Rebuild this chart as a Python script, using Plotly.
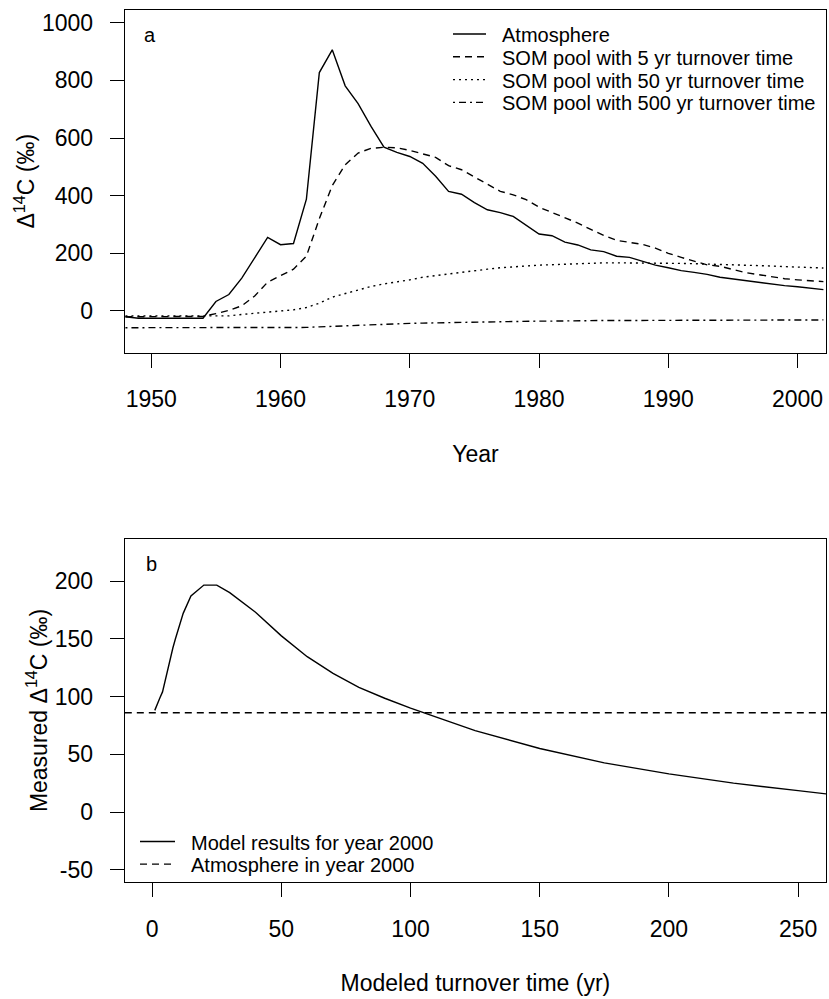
import plotly.graph_objects as go

# ---------------- data ----------------
years = list(range(1948, 2003))
atmosphere = [-20, -25, -25, -25, -25, -25, -25, 33, 57, 114,
              183, 255, 230, 234, 388, 827, 906, 781, 719, 640,
              568, 550, 536, 512, 467, 415, 405, 376, 351, 341,
              328, 297, 267, 261, 239, 229, 212, 206, 190, 186,
              172, 159, 150, 140, 134, 127, 117, 111, 105, 98,
              93, 88, 84, 79, 74]
som_5yr = [-20, -20, -20, -20, -20, -20, -19, -9, 2, 18,
           52, 100, 122, 145, 190, 320, 435, 507, 548, 564,
           568, 566, 557, 545, 533, 504, 490, 465, 440, 415,
           403, 386, 360, 342, 325, 305, 283, 262, 245, 238,
           231, 218, 200, 186, 172, 160, 155, 145, 133, 126,
           118, 112, 108, 105, 102]
som_50yr = [-17, -17, -17, -17, -17, -17, -17, -17, -17, -12,
            -8, -4, 0, 4, 12, 27, 48, 60, 72, 85,
            94, 100, 108, 117, 123, 128, 135, 141, 145, 150,
            154, 156, 159, 161, 163, 165, 166, 167, 167, 167,
            167, 166, 166, 165, 164, 163, 162, 161, 159, 158,
            156, 154, 153, 151, 149]
som_500yr = [-58, -58, -58, -58, -58, -58, -58, -58, -58, -58,
             -58, -58, -58, -58, -57, -55, -53, -51, -49, -48,
             -47, -45, -43, -42, -41, -40, -39, -38, -37, -37,
             -36, -36, -35, -35, -34, -34, -34, -33, -33, -33,
             -32, -32, -32, -31, -31, -31, -31, -31, -31, -31,
             -31, -31, -31, -31, -31]

turnover_times = [1, 2, 3, 4, 5, 6, 7, 8, 9, 10, 12, 15, 20, 25, 30, 40, 50,
                  60, 70, 80, 90, 100, 125, 150, 175, 200, 225, 250, 275]
model_2000 = [88, 94, 99, 104, 114, 124, 134, 142, 150, 158, 172, 187, 196.5,
              196.5, 190, 173, 152.5, 134.5, 120, 108, 98.5, 90, 70.5, 55,
              42.5, 33, 25, 18.5, 12]
atm_2000 = 86

top_xticks = [1950, 1960, 1970, 1980, 1990, 2000]
top_yticks = [0, 200, 400, 600, 800, 1000]
bot_xticks = [0, 50, 100, 150, 200, 250]
bot_yticks = [-50, 0, 50, 100, 150, 200]
bot_yticklabels = ["-50", "0", "50", "100", "150", "200"]

top_legend_names = ["Atmosphere", "SOM pool with 5 yr turnover time",
                    "SOM pool with 50 yr turnover time",
                    "SOM pool with 500 yr turnover time"]
bot_legend_names = ["Model results for year 2000", "Atmosphere in year 2000"]

top_xrange = [1947.95, 2002.2]
top_yrange = [-144, 1044]
bot_xrange = [-10.6, 260.8]
bot_yrange = [-60.6, 236.4]

# ---------------- figure ----------------
W, H = 829, 999
FONT = "Liberation Sans, Arial, sans-serif"
LW = 1.4
DASHES = ["solid", "7px,5px", "2px,4px", "2px,4px,7px,4px"]

fig = go.Figure()

for name, vals, dash in zip(top_legend_names,
                            [atmosphere, som_5yr, som_50yr, som_500yr], DASHES):
    fig.add_trace(go.Scatter(x=years, y=vals, mode="lines", name=name,
                             line=dict(color="black", width=LW, dash=dash),
                             xaxis="x", yaxis="y", showlegend=False))

fig.add_trace(go.Scatter(x=turnover_times, y=model_2000, mode="lines",
                         name=bot_legend_names[0],
                         line=dict(color="black", width=LW),
                         xaxis="x2", yaxis="y2", showlegend=False))
fig.add_trace(go.Scatter(x=bot_xrange, y=[atm_2000, atm_2000], mode="lines",
                         name=bot_legend_names[1],
                         line=dict(color="black", width=LW, dash=DASHES[1]),
                         xaxis="x2", yaxis="y2", showlegend=False))


def px_x(p):
    return p / W


def px_y(p):
    return 1 - p / H


axis_common = dict(
    showgrid=False, zeroline=False, showline=True, linecolor="black",
    linewidth=1.3, mirror=True, ticks="outside", ticklen=14, tickwidth=1.3,
    tickcolor="black", tickfont=dict(family=FONT, size=23, color="black"),
    title_font=dict(family=FONT, size=23, color="black"),
)

# manual legends (R-style compact rows)
shapes = []
annotations = []
for i, name in enumerate(top_legend_names):
    yc = 34 + i * 22.8
    shapes.append(dict(type="line", xref="paper", yref="paper",
                       x0=px_x(453), x1=px_x(486), y0=px_y(yc), y1=px_y(yc),
                       line=dict(color="black", width=LW, dash=DASHES[i])))
    annotations.append(dict(text=name, x=px_x(500), y=px_y(yc + 1),
                            xref="paper", yref="paper", xanchor="left",
                            yanchor="middle", showarrow=False,
                            font=dict(family=FONT, size=20, color="black")))
for i, name in enumerate(bot_legend_names):
    yc = 841.5 + i * 22.6
    shapes.append(dict(type="line", xref="paper", yref="paper",
                       x0=px_x(140), x1=px_x(175), y0=px_y(yc), y1=px_y(yc),
                       line=dict(color="black", width=LW, dash=DASHES[i])))
    annotations.append(dict(text=name, x=px_x(189), y=px_y(yc + 1),
                            xref="paper", yref="paper", xanchor="left",
                            yanchor="middle", showarrow=False,
                            font=dict(family=FONT, size=20, color="black")))

annotations += [
    dict(text="a", x=px_x(150), y=px_y(35), xref="paper", yref="paper",
         xanchor="center", yanchor="middle", showarrow=False,
         font=dict(family=FONT, size=20, color="black")),
    dict(text="b", x=px_x(151), y=px_y(564), xref="paper", yref="paper",
         xanchor="center", yanchor="middle", showarrow=False,
         font=dict(family=FONT, size=20, color="black")),
]

fig.update_layout(
    width=W, height=H,
    margin=dict(l=0, r=0, t=0, b=0),
    paper_bgcolor="white", plot_bgcolor="white",
    font=dict(family=FONT, color="black"),
    showlegend=False,
    xaxis=dict(axis_common, domain=[px_x(124.8), px_x(826)], range=top_xrange,
               tickvals=top_xticks, anchor="y", ticklabelstandoff=12,
               title=dict(text="Year", standoff=34)),
    yaxis=dict(axis_common, domain=[px_y(352.5), px_y(10)], range=top_yrange,
               tickvals=top_yticks, anchor="x", ticklabelstandoff=12,
               title=dict(text="Δ<sup>14</sup>C (‰)", standoff=0)),
    xaxis2=dict(axis_common, domain=[px_x(124.8), px_x(826)], range=bot_xrange,
                tickvals=bot_xticks, anchor="y2", ticklabelstandoff=12,
                title=dict(text="Modeled turnover time (yr)", standoff=34)),
    yaxis2=dict(axis_common, domain=[px_y(882), px_y(539)], range=bot_yrange,
                tickvals=bot_yticks, ticktext=bot_yticklabels, anchor="x2",
                ticklabelstandoff=12,
                title=dict(text="Measured Δ<sup>14</sup>C (‰)", standoff=0)),
    shapes=shapes,
    annotations=annotations,
)

fig.write_html("out.html")
